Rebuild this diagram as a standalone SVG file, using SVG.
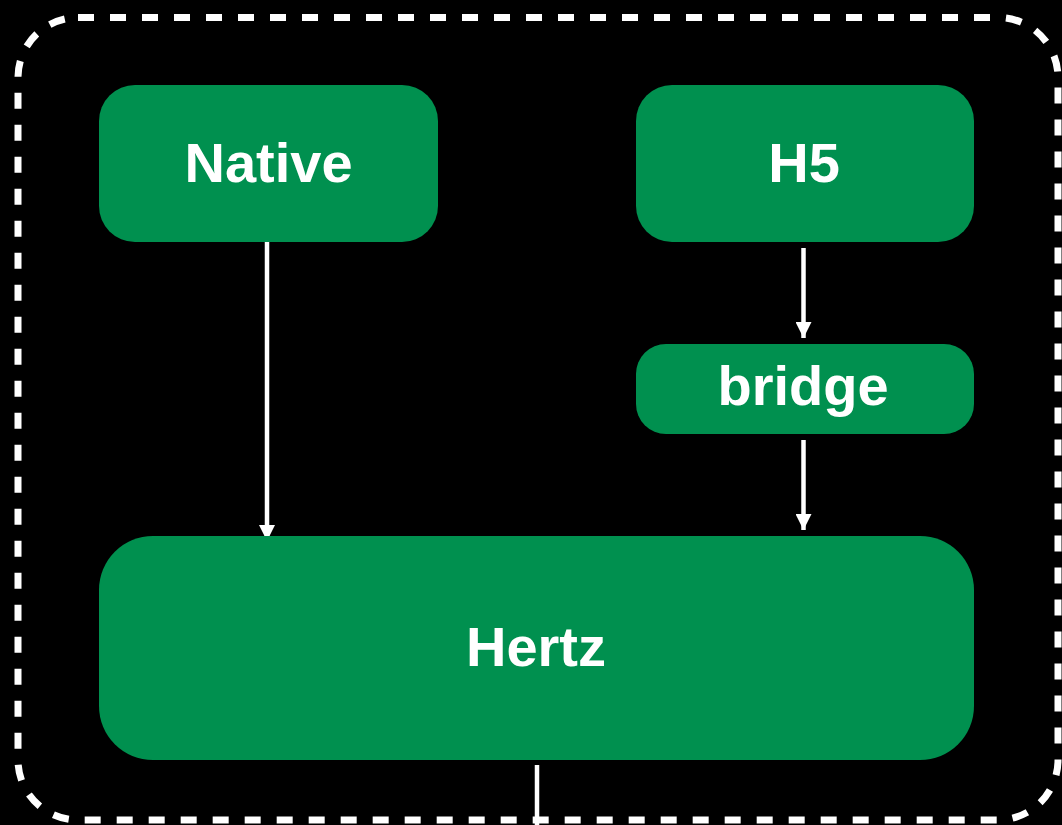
<svg xmlns="http://www.w3.org/2000/svg" width="1062" height="825" viewBox="0 0 1062 825">
  <defs>
    <style>
      .node { fill: #00904F; }
      .label { fill: #FFFFFF; font-family: "Liberation Sans", Arial, sans-serif; font-weight: bold; font-size: 56px; text-anchor: middle; }
      .conn { stroke: #FFFFFF; stroke-width: 4.5; fill: none; }
    </style>
    <marker id="arrow" viewBox="0 0 16 16" refX="16" refY="8" markerWidth="16" markerHeight="16" markerUnits="userSpaceOnUse" orient="auto">
      <path d="M0,0 L16,8 L0,16 Z" fill="#FFFFFF"/>
    </marker>
  </defs>
  <rect x="0" y="0" width="1062" height="825" fill="#000000"/>
  <rect id="boundary" x="18" y="17.5" width="1040" height="802.5" rx="60" ry="60" fill="none" stroke="#FFFFFF" stroke-width="7" stroke-dasharray="16 16"/>
  <g id="connectors">
    <line class="conn" x1="267" y1="242" x2="267" y2="541" marker-end="url(#arrow)"/>
    <line class="conn" x1="803.5" y1="248" x2="803.5" y2="338" marker-end="url(#arrow)"/>
    <line class="conn" x1="803.5" y1="440" x2="803.5" y2="530" marker-end="url(#arrow)"/>
    <line class="conn" x1="537" y1="765" x2="537" y2="825"/>
  </g>
  <g id="native">
    <rect class="node" x="99" y="85" width="339" height="157" rx="36" ry="36"/>
    <text class="label" x="268.5" y="182">Native</text>
  </g>
  <g id="h5">
    <rect class="node" x="636" y="85" width="338" height="157" rx="36" ry="36"/>
    <text class="label" x="804" y="182">H5</text>
  </g>
  <g id="bridge">
    <rect class="node" x="636" y="344" width="338" height="90" rx="30" ry="30"/>
    <text class="label" x="803" y="405">bridge</text>
  </g>
  <g id="hertz">
    <rect class="node" x="99" y="536" width="875" height="224" rx="54" ry="54"/>
    <text class="label" x="536" y="666">Hertz</text>
  </g>
</svg>
